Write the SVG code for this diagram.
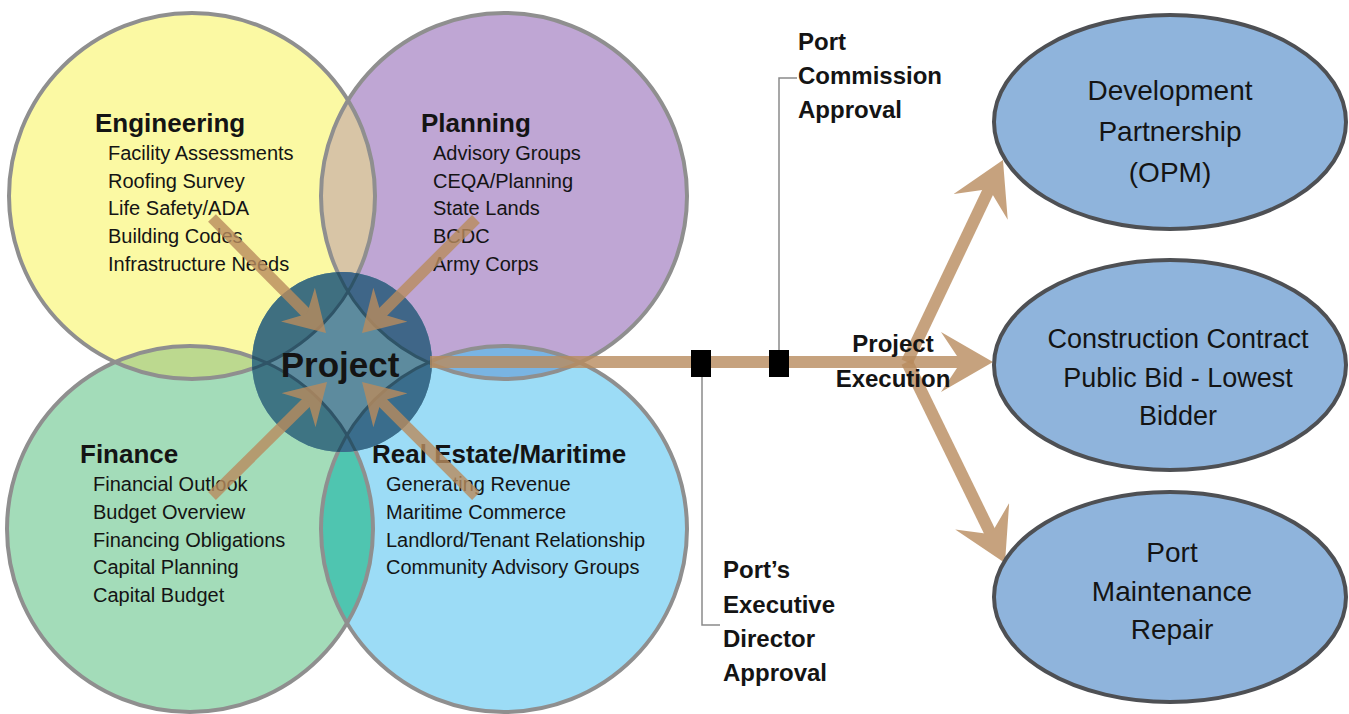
<svg xmlns="http://www.w3.org/2000/svg" width="1349" height="714" viewBox="0 0 1349 714">
<style>
text{font-family:"Liberation Sans",Arial,sans-serif;fill:#141414}
.title{font-size:26px;font-weight:bold}
.item{font-size:20px}
.callout{font-size:24px;font-weight:bold}
.oval{font-size:27px;text-anchor:middle}
.big{font-size:28px}
.venn{fill:none;stroke:#8f8f8f;stroke-width:4}
.inner{fill:none;stroke:#2f5467;stroke-width:3}
.leader{fill:none;stroke:#8a8a8a;stroke-width:1.5}
.shaft{stroke:#b98c5e;fill:none}
.outcome{fill:#8fb4dc;stroke:#4e5054;stroke-width:4}
</style>
<defs>
<clipPath id="clipY"><circle cx="192" cy="196" r="183"/></clipPath>
<clipPath id="clipP"><circle cx="504" cy="196" r="183"/></clipPath>
<clipPath id="clipG"><circle cx="190" cy="529" r="183"/></clipPath>
<clipPath id="clipProj"><circle cx="342" cy="362" r="90"/></clipPath>
<marker id="hs" viewBox="0 0 40 48" refX="18" refY="24" markerWidth="40" markerHeight="48" markerUnits="userSpaceOnUse" orient="auto"><path d="M0,0 L40,24 L0,48 L13,24 Z" fill="#b98c5e"/></marker>
<marker id="hl" viewBox="0 0 52 60" refX="26" refY="30" markerWidth="52" markerHeight="60" markerUnits="userSpaceOnUse" orient="auto"><path d="M0,0 L52,30 L0,60 L20,30 Z" fill="#b98c5e"/></marker>
</defs>
<rect width="1349" height="714" fill="#ffffff"/>

<!-- Venn fills -->
<g id="engineering">
<circle cx="192" cy="196" r="183" fill="#fbf9a3"/>
</g>
<g id="planning">
<circle cx="504" cy="196" r="183" fill="#bfa6d4"/>
</g>
<g id="finance">
<circle cx="190" cy="529" r="183" fill="#a3dcb9"/>
</g>
<g id="realestate">
<circle cx="504" cy="529" r="183" fill="#9cdcf6"/>
</g>
<g id="overlaps">
<circle cx="504" cy="196" r="183" fill="#d8c5a6" clip-path="url(#clipY)"/>
<circle cx="190" cy="529" r="183" fill="#bcd98f" clip-path="url(#clipY)"/>
<circle cx="504" cy="529" r="183" fill="#79b4e3" clip-path="url(#clipP)"/>
<circle cx="504" cy="529" r="183" fill="#4fc5b0" clip-path="url(#clipG)"/>
</g>
<g id="venn-outlines">
<circle class="venn" cx="192" cy="196" r="183"/>
<circle class="venn" cx="504" cy="196" r="183"/>
<circle class="venn" cx="190" cy="529" r="183"/>
<circle class="venn" cx="504" cy="529" r="183"/>
</g>

<!-- Venn texts -->
<g id="engineering-text">
<text class="title" x="95" y="132">Engineering</text>
<text class="item" x="108" y="160">Facility Assessments</text>
<text class="item" x="108" y="188">Roofing Survey</text>
<text class="item" x="108" y="215">Life Safety/ADA</text>
<text class="item" x="108" y="243">Building Codes</text>
<text class="item" x="108" y="271">Infrastructure Needs</text>
</g>
<g id="planning-text">
<text class="title" x="421" y="132">Planning</text>
<text class="item" x="433" y="160">Advisory Groups</text>
<text class="item" x="433" y="188">CEQA/Planning</text>
<text class="item" x="433" y="215">State Lands</text>
<text class="item" x="433" y="243">BCDC</text>
<text class="item" x="433" y="271">Army Corps</text>
</g>
<g id="finance-text">
<text class="title" x="80" y="463">Finance</text>
<text class="item" x="93" y="491">Financial Outlook</text>
<text class="item" x="93" y="519">Budget Overview</text>
<text class="item" x="93" y="547">Financing Obligations</text>
<text class="item" x="93" y="574">Capital Planning</text>
<text class="item" x="93" y="602">Capital Budget</text>
</g>
<g id="realestate-text">
<text class="title" x="372" y="463">Real Estate/Maritime</text>
<text class="item" x="386" y="491">Generating Revenue</text>
<text class="item" x="386" y="519">Maritime Commerce</text>
<text class="item" x="386" y="547">Landlord/Tenant Relationship</text>
<text class="item" x="386" y="574">Community Advisory Groups</text>
</g>

<!-- Project node -->
<g id="project">
<circle cx="342" cy="362" r="90" fill="#5d8b9e"/>
<g clip-path="url(#clipProj)">
<circle cx="192" cy="196" r="183" fill="#3f6f80"/>
<circle cx="504" cy="196" r="183" fill="#3f6688"/>
<circle cx="190" cy="529" r="183" fill="#3e7483"/>
<circle cx="504" cy="529" r="183" fill="#3a6d8c"/>
<circle class="inner" cx="192" cy="196" r="183"/>
<circle class="inner" cx="504" cy="196" r="183"/>
<circle class="inner" cx="190" cy="529" r="183"/>
<circle class="inner" cx="504" cy="529" r="183"/>
</g>
</g>

<!-- Connectors -->
<g id="connectors">
<g opacity="0.8"><line class="shaft" stroke-width="11" x1="212" y1="218" x2="310.5" y2="317.4" marker-end="url(#hs)"/></g>
<g opacity="0.8"><line class="shaft" stroke-width="11" x1="476" y1="219" x2="377.6" y2="317.4" marker-end="url(#hs)"/></g>
<g opacity="0.8"><line class="shaft" stroke-width="11" x1="212" y1="496" x2="311.4" y2="397.5" marker-end="url(#hs)"/></g>
<g opacity="0.8"><line class="shaft" stroke-width="11" x1="476" y1="496" x2="377.6" y2="397.6" marker-end="url(#hs)"/></g>
<g opacity="0.8"><line class="shaft" stroke-width="12" x1="430" y1="362" x2="967" y2="362" marker-end="url(#hl)"/></g>
<g opacity="0.8"><line class="shaft" stroke-width="12" x1="907" y1="362" x2="991.8" y2="183.5" marker-end="url(#hl)"/></g>
<g opacity="0.8"><line class="shaft" stroke-width="12" x1="907" y1="362" x2="993.6" y2="539.6" marker-end="url(#hl)"/></g>
<polyline class="leader" points="779,351 779,78 797,78"/>
<polyline class="leader" points="702,377 702,625 720,625"/>
<rect x="691" y="350" width="20" height="27" fill="#000"/>
<rect x="769" y="350" width="20" height="27" fill="#000"/>
</g>

<g id="project-label">
<text x="340" y="377" font-size="35" font-weight="bold" text-anchor="middle">Project</text>
</g>

<g id="port-commission">
<text class="callout" x="798" y="50">Port</text>
<text class="callout" x="798" y="84">Commission</text>
<text class="callout" x="798" y="118">Approval</text>
</g>
<g id="executive-director">
<text class="callout" x="723" y="578">Port’s</text>
<text class="callout" x="723" y="613">Executive</text>
<text class="callout" x="723" y="647">Director</text>
<text class="callout" x="723" y="681">Approval</text>
</g>
<g id="project-execution">
<text class="callout" x="893" y="352" text-anchor="middle">Project</text>
<text class="callout" x="893" y="387" text-anchor="middle">Execution</text>
</g>

<g id="development-partnership">
<ellipse class="outcome" cx="1170" cy="122" rx="176" ry="107"/>
<text class="oval big" x="1170" y="100">Development</text>
<text class="oval big" x="1170" y="141">Partnership</text>
<text class="oval big" x="1170" y="182">(OPM)</text>
</g>
<g id="construction-contract">
<ellipse class="outcome" cx="1170" cy="365" rx="176" ry="105"/>
<text class="oval" x="1178" y="348">Construction Contract</text>
<text class="oval" x="1178" y="387">Public Bid - Lowest</text>
<text class="oval" x="1178" y="425">Bidder</text>
</g>
<g id="port-maintenance">
<ellipse class="outcome" cx="1170" cy="597" rx="176" ry="105"/>
<text class="oval big" x="1172" y="562">Port</text>
<text class="oval big" x="1172" y="601">Maintenance</text>
<text class="oval big" x="1172" y="639">Repair</text>
</g>
</svg>
